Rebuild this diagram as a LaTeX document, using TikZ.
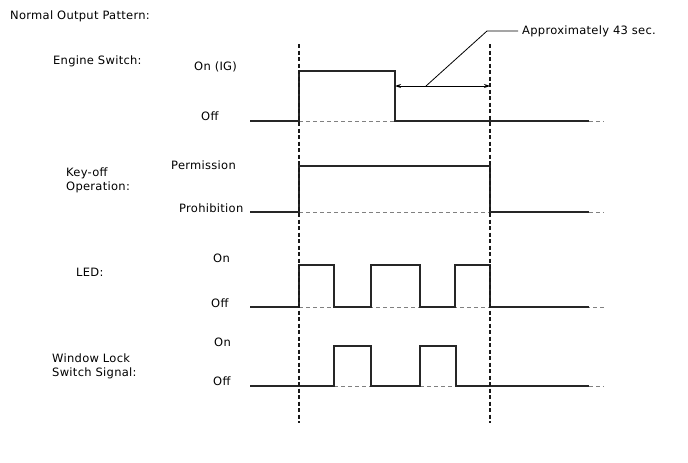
\documentclass[tikz,border=0pt]{standalone}
\usepackage{fontspec}
\setmainfont{DejaVu Sans}[LetterSpace=2.5]
\usetikzlibrary{arrows.meta}
\begin{document}
\begin{tikzpicture}[x=1pt,y=-1pt,
  lbl/.style={inner sep=0pt,font=\fontsize{11.5}{14}\selectfont},
  sig/.style={line width=1.3pt,black!85},
  base/.style={dash pattern=on 4pt off 3pt,line width=0.9pt,black!50},
  marker/.style={dash pattern=on 4pt off 2.5pt,line width=1.3pt,black!90},
  dim/.style={line width=0.9pt,{Stealth[length=6pt,width=4pt]}-{Stealth[length=6pt,width=4pt]}},
  lead/.style={line width=0.8pt}]
\useasboundingbox (0,0) rectangle (688,463);
% titles
\node[lbl,anchor=west] (title) at (10,16) {Normal Output Pattern:};
\node[lbl,anchor=west] (eng) at (53,61) {Engine Switch:};
\node[lbl,anchor=west] (engon) at (194,67) {On (IG)};
\node[lbl,anchor=west] (engoff) at (201,116) {Off};
\node[lbl,anchor=west,align=left] (key) at (66,180) {Key-off\\Operation:};
\node[lbl,anchor=west] (keyon) at (171,165) {Permission};
\node[lbl,anchor=west] (keyoff) at (179,208) {Prohibition};
\node[lbl,anchor=west] (led) at (76,272) {LED:};
\node[lbl,anchor=west] (ledon) at (213,258) {On};
\node[lbl,anchor=west] (ledoff) at (211,303) {Off};
\node[lbl,anchor=west,align=left] (win) at (52,366) {Window Lock\\Switch Signal:};
\node[lbl,anchor=west] (winon) at (214,342) {On};
\node[lbl,anchor=west] (winoff) at (213,381) {Off};
% base lines (grey dashed)
\draw[base] (299,121) -- (395,121);
\draw[base] (589,121) -- (604,121);
\draw[base] (299,212) -- (490,212);
\draw[base] (589,212) -- (604,212);
\draw[base] (299,307) -- (604,307);
\draw[base] (334,386) -- (371,386);
\draw[base] (420,386) -- (456,386);
\draw[base] (589,386) -- (604,386);
% signals
\draw[sig] (250,121) -- (299,121) -- (299,71) -- (395,71) -- (395,121) -- (589,121);
\draw[sig] (250,212) -- (299,212) -- (299,166) -- (490,166) -- (490,212) -- (589,212);
\draw[sig] (250,307) -- (299,307) -- (299,265) -- (334,265) -- (334,307) -- (371,307) -- (371,265) -- (420,265) -- (420,307) -- (455,307) -- (455,265) -- (490,265) -- (490,307) -- (589,307);
\draw[sig] (250,386) -- (334,386) -- (334,346) -- (371,346) -- (371,386) -- (420,386) -- (420,346) -- (456,346) -- (456,386) -- (589,386);
% time markers
\coordinate (m1t) at (299,44); \coordinate (m1b) at (299,423);
\coordinate (m2t) at (490,44); \coordinate (m2b) at (490,423);
\draw[marker] (m1t) -- (m1b);
\draw[marker] (m2t) -- (m2b);
% dimension
\coordinate (d1) at (395,86); \coordinate (d2) at (490,86);
\draw[dim] (d1) -- (d2);
\node[lbl,anchor=west] (approx) at (522,31) {Approximately 43 sec.};
\coordinate (lp) at (426,86);
\draw[lead] (lp) -- (487,31) -- ([xshift=-4pt]approx.west);
\end{tikzpicture}
\end{document}
